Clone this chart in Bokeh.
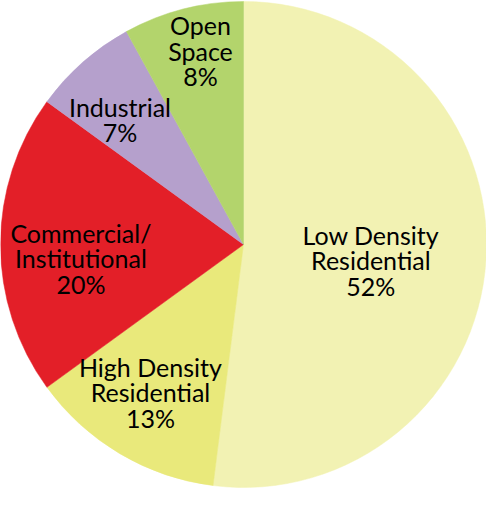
import math
from bokeh.plotting import figure
from bokeh.models import ColumnDataSource, Range1d
from bokeh.core.properties import value
from bokeh.embed import file_html
from bokeh.resources import INLINE

# ---- data ----
categories = ["Low Density Residential", "High Density Residential",
              "Commercial/Institutional", "Industrial", "Open Space"]
percents = [52, 13, 20, 7, 8]
label_lines = ["Low Density\nResidential", "High Density\nResidential",
               "Commercial/\nInstitutional", "Industrial", "Open\nSpace"]
colors = ["#F2F2B3", "#E9E97B", "#E31F28", "#B5A0CC", "#B3D46C"]

# ---- layout ----
W, H = 486, 489
CX, CY, R = 243, 245, 243
# label centre offsets from pie centre, in fractions of the radius (x right, y down)
label_offsets = [(0.524, 0.065), (-0.383, 0.609), (-0.669, 0.056),
                 (-0.508, -0.515), (-0.177, -0.798)]

total = float(sum(percents))
starts, ends = [], []
cum = 0.0
for v in percents:
    a0 = math.pi / 2 - 2 * math.pi * cum / total
    cum += v
    a1 = math.pi / 2 - 2 * math.pi * cum / total
    starts.append(a0)
    ends.append(a1)

src = ColumnDataSource(dict(cat=categories, pct=percents, color=colors,
                            start=starts, end=ends))

p = figure(width=W, height=H, output_backend="svg", toolbar_location=None,
           x_range=Range1d(0, W), y_range=Range1d(0, H),
           x_axis_location=None, y_axis_location=None,
           min_border=0, outline_line_color=None,
           background_fill_color="white", border_fill_color="white")
p.grid.visible = False

p.wedge(x=CX, y=CY, radius=R, start_angle="start", end_angle="end",
        direction="clock", fill_color="color", line_color="color",
        line_width=0.5, source=src)

lx = [CX + dx * R for dx, dy in label_offsets]
ly = [CY - dy * R for dx, dy in label_offsets]
texts = [f"{l}\n{v}%" for l, v in zip(label_lines, percents)]
p.text(x=lx, y=ly, text=texts, text_align="center", text_baseline="middle",
       text_font=value("Lato"), text_font_size="25px", text_color="black",
       text_line_height=0.85)

open("out.html", "w").write(file_html(p, INLINE))
